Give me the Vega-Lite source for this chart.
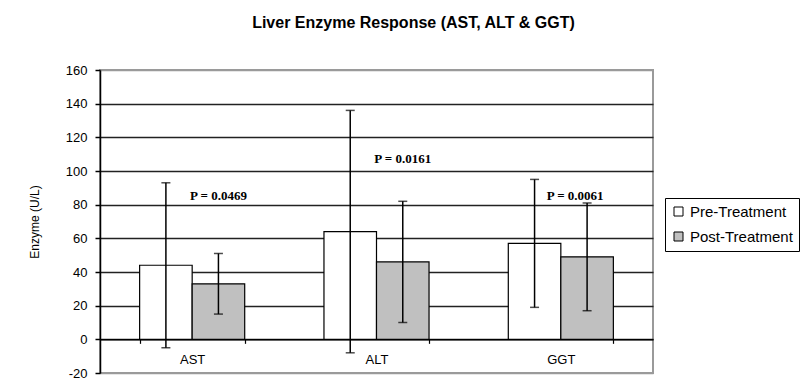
{
  "$schema": "https://vega.github.io/schema/vega-lite/v6.json",
  "width": 553,
  "height": 303,
  "autosize": {"type": "none"},
  "padding": {"left": 100, "top": 70, "right": 156, "bottom": 19},
  "background": "white",
  "title": {
    "text": "Liver Enzyme Response (AST, ALT & GGT)",
    "font": "Liberation Sans",
    "fontSize": 16,
    "fontWeight": "bold",
    "color": "black",
    "anchor": "middle",
    "dx": 37,
    "offset": 33
  },
  "datasets": {
    "enzymes": [
      {"enzyme": "AST", "group": "Pre-Treatment", "mean": 44, "lo": -5, "hi": 93},
      {"enzyme": "AST", "group": "Post-Treatment", "mean": 33, "lo": 15, "hi": 51},
      {"enzyme": "ALT", "group": "Pre-Treatment", "mean": 64, "lo": -8, "hi": 136},
      {"enzyme": "ALT", "group": "Post-Treatment", "mean": 46, "lo": 10, "hi": 82},
      {"enzyme": "GGT", "group": "Pre-Treatment", "mean": 57, "lo": 19, "hi": 95},
      {"enzyme": "GGT", "group": "Post-Treatment", "mean": 49, "lo": 17, "hi": 81}
    ],
    "pvals": [
      {"enzyme": "AST", "group": "Post-Treatment", "y": 85, "label": "P = 0.0469"},
      {"enzyme": "ALT", "group": "Post-Treatment", "y": 107, "label": "P = 0.0161"},
      {"enzyme": "GGT", "group": "Post-Treatment", "y": 85, "label": "P = 0.0061"}
    ]
  },
  "config": {
    "view": {"stroke": "#9a9a9a", "strokeWidth": 2},
    "axis": {
      "labelFont": "Liberation Sans",
      "titleFont": "Liberation Sans",
      "labelColor": "black",
      "titleColor": "black",
      "domainColor": "black",
      "tickColor": "black"
    },
    "legend": {
      "orient": "none",
      "legendX": 565,
      "legendY": 128,
      "strokeColor": "black",
      "fillColor": "white",
      "padding": 6,
      "cornerRadius": 0,
      "symbolType": "square",
      "symbolSize": 81,
      "symbolStrokeColor": "black",
      "symbolStrokeWidth": 1,
      "labelFont": "Liberation Sans",
      "labelFontSize": 15,
      "labelColor": "black",
      "rowPadding": 9
    }
  },
  "layer": [
    {
      "data": {"name": "enzymes"},
      "mark": {"type": "bar", "stroke": "black", "strokeWidth": 1.2},
      "encoding": {
        "x": {
          "field": "enzyme",
          "type": "nominal",
          "sort": ["AST", "ALT", "GGT"],
          "scale": {"paddingInner": 0.43, "paddingOuter": 0.215},
          "axis": {
            "title": null,
            "labelAngle": 0,
            "labelFontSize": 13,
            "offset": -33.67,
            "tickBand": "extent",
            "tickSize": 4,
            "labelPadding": 10,
            "domainWidth": 1.5,
            "tickWidth": 1.2
          }
        },
        "xOffset": {
          "field": "group",
          "type": "nominal",
          "sort": ["Pre-Treatment", "Post-Treatment"],
          "scale": {"paddingInner": 0, "paddingOuter": 0}
        },
        "y": {
          "field": "mean",
          "type": "quantitative",
          "scale": {"domain": [-20, 160], "nice": false, "zero": false},
          "axis": {
            "title": "Enzyme (U/L)",
            "titleFontSize": 12,
            "titleFontWeight": "normal",
            "titlePadding": 24,
            "values": [-20, 0, 20, 40, 60, 80, 100, 120, 140, 160],
            "tickCount": 20,
            "labelExpr": "toString(datum.value)",
            "labelOverlap": false,
            "labelFontSize": 13,
            "labelPadding": 8,
            "tickSize": 5,
            "tickWidth": 1.5,
            "domainWidth": 1.5,
            "grid": true,
            "gridColor": {"condition": {"test": "datum.value === 160 || datum.value === -20", "value": "#9a9a9a"}, "value": "#222222"},
            "gridWidth": 1.5
          }
        },
        "fill": {
          "field": "group",
          "type": "nominal",
          "sort": ["Pre-Treatment", "Post-Treatment"],
          "scale": {"domain": ["Pre-Treatment", "Post-Treatment"], "range": ["#ffffff", "#c0c0c0"]},
          "legend": {"title": null}
        }
      }
    },
    {
      "data": {"name": "enzymes"},
      "mark": {"type": "rule", "color": "black", "strokeWidth": 1.5},
      "encoding": {
        "x": {"field": "enzyme", "type": "nominal", "sort": ["AST", "ALT", "GGT"]},
        "xOffset": {"field": "group", "type": "nominal", "sort": ["Pre-Treatment", "Post-Treatment"]},
        "y": {"field": "lo", "type": "quantitative"},
        "y2": {"field": "hi"}
      }
    },
    {
      "data": {"name": "enzymes"},
      "mark": {"type": "tick", "color": "black", "thickness": 1.5, "size": 9},
      "encoding": {
        "x": {"field": "enzyme", "type": "nominal", "sort": ["AST", "ALT", "GGT"]},
        "xOffset": {"field": "group", "type": "nominal", "sort": ["Pre-Treatment", "Post-Treatment"]},
        "y": {"field": "lo", "type": "quantitative"}
      }
    },
    {
      "data": {"name": "enzymes"},
      "mark": {"type": "tick", "color": "black", "thickness": 1.5, "size": 9},
      "encoding": {
        "x": {"field": "enzyme", "type": "nominal", "sort": ["AST", "ALT", "GGT"]},
        "xOffset": {"field": "group", "type": "nominal", "sort": ["Pre-Treatment", "Post-Treatment"]},
        "y": {"field": "hi", "type": "quantitative"}
      }
    },
    {
      "data": {"name": "pvals"},
      "transform": [{"filter": "datum.enzyme !== 'GGT'"}],
      "mark": {"type": "text", "font": "Liberation Serif", "fontSize": 13, "fontWeight": "bold", "color": "black", "align": "center", "baseline": "middle"},
      "encoding": {
        "x": {"field": "enzyme", "type": "nominal", "sort": ["AST", "ALT", "GGT"]},
        "xOffset": {"field": "group", "type": "nominal", "sort": ["Pre-Treatment", "Post-Treatment"]},
        "y": {"field": "y", "type": "quantitative"},
        "text": {"field": "label"}
      }
    },
    {
      "data": {"name": "pvals"},
      "transform": [{"filter": "datum.enzyme === 'GGT'"}],
      "mark": {"type": "text", "font": "Liberation Serif", "fontSize": 13, "fontWeight": "bold", "color": "black", "align": "center", "baseline": "middle", "dx": -12},
      "encoding": {
        "x": {"field": "enzyme", "type": "nominal", "sort": ["AST", "ALT", "GGT"]},
        "xOffset": {"field": "group", "type": "nominal", "sort": ["Pre-Treatment", "Post-Treatment"]},
        "y": {"field": "y", "type": "quantitative"},
        "text": {"field": "label"}
      }
    }
  ]
}
